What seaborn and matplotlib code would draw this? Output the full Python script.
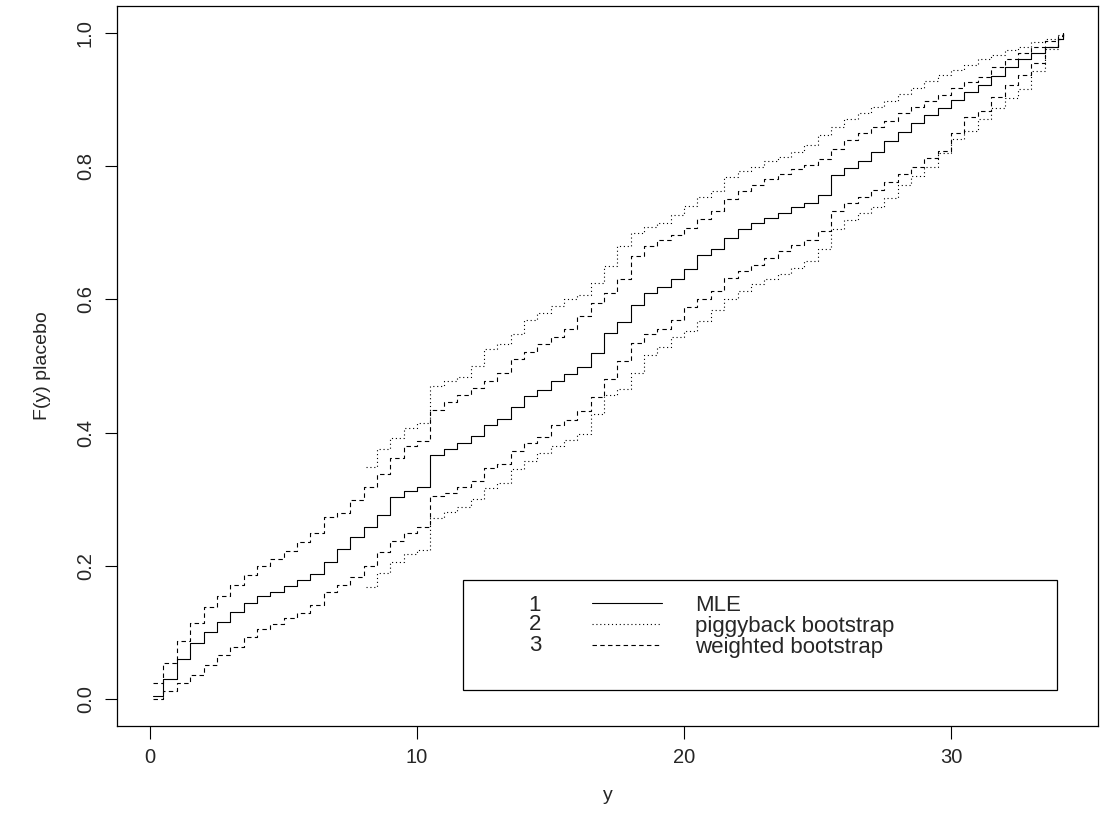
import matplotlib
matplotlib.use("Agg")
import matplotlib.pyplot as plt
import matplotlib.patches as mpatches
from matplotlib.lines import Line2D
import seaborn as sns

# step positions (y) for the MLE and weighted bootstrap curves
X_FULL = [0.1, 0.5, 1.0, 1.5, 2.0, 2.5, 3.0, 3.5, 4.0, 4.5,
          5.0, 5.5, 6.0, 6.5, 7.0, 7.5, 8.0, 8.5, 9.0, 9.5,
          10.0, 10.5, 11.0, 11.5, 12.0, 12.5, 13.0, 13.5, 14.0, 14.5,
          15.0, 15.5, 16.0, 16.5, 17.0, 17.5, 18.0, 18.5, 19.0, 19.5,
          20.0, 20.5, 21.0, 21.5, 22.0, 22.5, 23.0, 23.5, 24.0, 24.5,
          25.0, 25.5, 26.0, 26.5, 27.0, 27.5, 28.0, 28.5, 29.0, 29.5,
          30.0, 30.5, 31.0, 31.5, 32.0, 32.5, 33.0, 33.5, 34.0, 34.2]

mle = [0.005, 0.030, 0.060, 0.085, 0.101, 0.116, 0.131, 0.144, 0.155, 0.161,
       0.170, 0.179, 0.188, 0.206, 0.226, 0.243, 0.258, 0.276, 0.303, 0.313,
       0.319, 0.366, 0.376, 0.385, 0.395, 0.412, 0.420, 0.438, 0.455, 0.464,
       0.477, 0.488, 0.498, 0.520, 0.550, 0.566, 0.591, 0.609, 0.618, 0.630,
       0.646, 0.666, 0.676, 0.692, 0.706, 0.715, 0.722, 0.730, 0.738, 0.745,
       0.756, 0.786, 0.797, 0.808, 0.821, 0.838, 0.851, 0.865, 0.876, 0.887,
       0.899, 0.911, 0.922, 0.935, 0.949, 0.960, 0.970, 0.979, 0.990, 1.000]

weighted_upper = [0.025, 0.055, 0.088, 0.114, 0.138, 0.155, 0.172, 0.187, 0.200, 0.211,
                  0.223, 0.236, 0.250, 0.273, 0.280, 0.299, 0.318, 0.338, 0.362, 0.380,
                  0.388, 0.434, 0.446, 0.457, 0.467, 0.478, 0.490, 0.510, 0.521, 0.533,
                  0.543, 0.556, 0.575, 0.595, 0.610, 0.630, 0.665, 0.680, 0.689, 0.697,
                  0.707, 0.720, 0.732, 0.751, 0.762, 0.771, 0.781, 0.788, 0.795, 0.802,
                  0.811, 0.826, 0.839, 0.849, 0.858, 0.867, 0.879, 0.889, 0.897, 0.906,
                  0.917, 0.926, 0.934, 0.948, 0.960, 0.969, 0.978, 0.987, 0.995, 1.000]

weighted_lower = [0.000, 0.012, 0.024, 0.036, 0.051, 0.066, 0.078, 0.093, 0.105, 0.113,
                  0.122, 0.130, 0.142, 0.161, 0.172, 0.184, 0.200, 0.221, 0.238, 0.250,
                  0.258, 0.305, 0.310, 0.318, 0.328, 0.347, 0.353, 0.372, 0.385, 0.394,
                  0.411, 0.419, 0.432, 0.454, 0.480, 0.508, 0.535, 0.548, 0.556, 0.569,
                  0.588, 0.600, 0.613, 0.632, 0.643, 0.652, 0.662, 0.672, 0.681, 0.689,
                  0.703, 0.732, 0.745, 0.753, 0.764, 0.776, 0.788, 0.799, 0.812, 0.822,
                  0.850, 0.874, 0.883, 0.904, 0.922, 0.936, 0.955, 0.978, 0.990, 1.000]

# piggyback bootstrap band only starts around y = 8
X_PIGGY = [8.1, 8.5, 9.0, 9.5, 10.0, 10.5, 11.0, 11.5, 12.0, 12.5,
           13.0, 13.5, 14.0, 14.5, 15.0, 15.5, 16.0, 16.5, 17.0, 17.5,
           18.0, 18.5, 19.0, 19.5, 20.0, 20.5, 21.0, 21.5, 22.0, 22.5,
           23.0, 23.5, 24.0, 24.5, 25.0, 25.5, 26.0, 26.5, 27.0, 27.5,
           28.0, 28.5, 29.0, 29.5, 30.0, 30.5, 31.0, 31.5, 32.0, 32.5,
           33.0, 33.5, 34.0, 34.2]

piggy_upper = [0.348, 0.375, 0.392, 0.407, 0.414, 0.470, 0.478, 0.484, 0.500, 0.525,
               0.533, 0.548, 0.569, 0.580, 0.590, 0.600, 0.607, 0.625, 0.650, 0.680,
               0.700, 0.708, 0.715, 0.727, 0.740, 0.753, 0.763, 0.783, 0.792, 0.798,
               0.807, 0.814, 0.821, 0.831, 0.846, 0.859, 0.870, 0.879, 0.888, 0.897,
               0.908, 0.917, 0.928, 0.936, 0.944, 0.952, 0.960, 0.966, 0.974, 0.979,
               0.986, 0.991, 0.997, 1.000]

piggy_lower = [0.168, 0.190, 0.206, 0.218, 0.224, 0.272, 0.281, 0.288, 0.300, 0.317,
               0.325, 0.345, 0.357, 0.369, 0.380, 0.389, 0.398, 0.428, 0.457, 0.466,
               0.490, 0.516, 0.528, 0.543, 0.552, 0.568, 0.584, 0.601, 0.613, 0.623,
               0.631, 0.638, 0.647, 0.658, 0.676, 0.706, 0.719, 0.729, 0.739, 0.752,
               0.771, 0.785, 0.799, 0.820, 0.840, 0.853, 0.871, 0.887, 0.902, 0.916,
               0.942, 0.975, 0.990, 1.000]

legend_nums = ["1", "2", "3"]
legend_labels = ["MLE", "piggyback bootstrap", "weighted bootstrap"]

assert len(X_FULL) == len(mle) == len(weighted_upper) == len(weighted_lower)
assert len(X_PIGGY) == len(piggy_upper) == len(piggy_lower)

sns.set_theme(style="white")
plt.rcParams["font.family"] = ["Liberation Sans", "DejaVu Sans"]

SOLID = "-"
DOTTED = (0, (1, 2.5))
DASHED = (0, (4, 3))

fig = plt.figure(figsize=(11.04, 8.13), dpi=100)
ax = fig.add_axes([117 / 1104, 87 / 813, 981 / 1104, 720 / 813])


def step_curve(x, y, ls):
    sns.lineplot(x=x, y=y, ax=ax, color="black", linewidth=0.8,
                 linestyle=ls, drawstyle="steps-post", estimator=None,
                 sort=False)


step_curve(X_FULL, mle, SOLID)
step_curve(X_PIGGY, piggy_upper, DOTTED)
step_curve(X_PIGGY, piggy_lower, DOTTED)
step_curve(X_FULL, weighted_upper, DASHED)
step_curve(X_FULL, weighted_lower, DASHED)

ax.set_xlim(-1.24, 35.5)
ax.set_ylim(-0.04, 1.04)
ax.set_xticks([0, 10, 20, 30])
ax.set_yticks([0.0, 0.2, 0.4, 0.6, 0.8, 1.0])
ax.set_yticklabels(["0.0", "0.2", "0.4", "0.6", "0.8", "1.0"],
                   rotation=90, va="center")
ax.tick_params(direction="out", length=9, width=0.8, color="black",
               labelsize=14.5, pad=7, bottom=True, left=True)
for sp in ax.spines.values():
    sp.set_color("black")
    sp.set_linewidth(0.9)

ax.set_xlabel("y", fontsize=14, labelpad=14)
ax.set_ylabel("F(y) placebo", fontsize=14, labelpad=18)

# legend box in the R style: number, line key, label
box = mpatches.Rectangle((0.3527, 0.05), 0.6055, 0.1528, transform=ax.transAxes,
                         fill=False, edgecolor="black", linewidth=0.9)
ax.add_patch(box)
handles = [Line2D([], [], color="black", linewidth=0.8, linestyle=s)
           for s in (SOLID, DOTTED, DASHED)]
leg = ax.legend(handles, legend_labels, loc="upper left",
                bbox_to_anchor=(0.4842, 0.182), frameon=False, fontsize=16,
                handlelength=3.15, handletextpad=1.49, labelspacing=0.0,
                borderpad=0, borderaxespad=0)
row_y = [0.168, 0.1403, 0.1125]
for num, yy in zip(legend_nums, row_y):
    ax.text(0.426, yy, num, transform=ax.transAxes, fontsize=16,
            ha="center", va="center")

fig.savefig("out.png", dpi=100)
